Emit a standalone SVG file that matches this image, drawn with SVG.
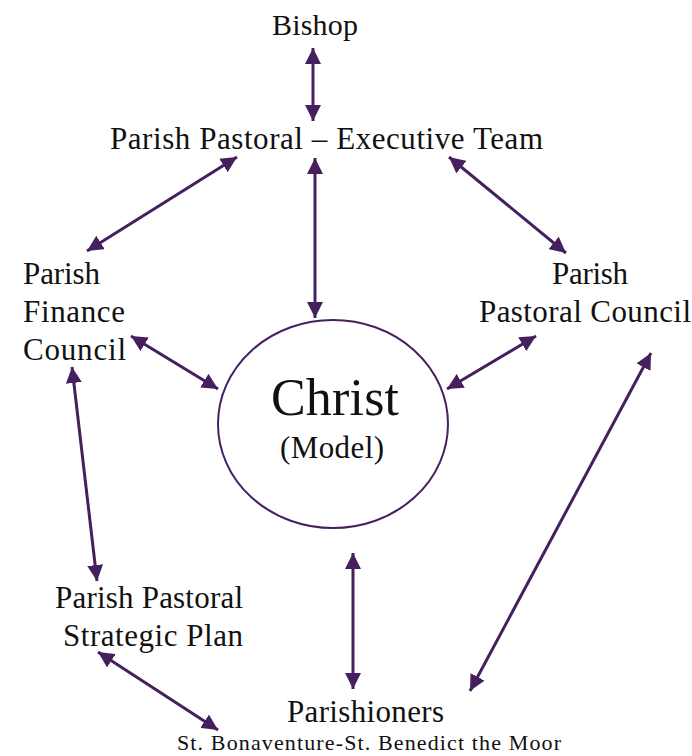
<svg xmlns="http://www.w3.org/2000/svg" width="692" height="756" viewBox="0 0 692 756">
<style>
.t{font-family:"Liberation Serif","DejaVu Serif",serif;fill:#111;}
.c line{stroke:#45205f;stroke-width:3;marker-start:url(#ah);marker-end:url(#ah);}
</style>
<defs>
<marker id="ah" markerUnits="userSpaceOnUse" markerWidth="18" markerHeight="16" refX="16" refY="8" orient="auto-start-reverse" viewBox="0 0 18 16">
<path d="M0,0 L16,8 L0,16 z" fill="#45205f"/>
</marker>
</defs>
<rect width="692" height="756" fill="#fff"/>
<g class="c" id="connectors">
<line x1="313" y1="48" x2="313" y2="121"/>
<line x1="237" y1="157" x2="87" y2="251"/>
<line x1="315" y1="158" x2="315" y2="318"/>
<line x1="449" y1="157" x2="566" y2="253"/>
<line x1="131" y1="336" x2="218" y2="389"/>
<line x1="536" y1="336" x2="447" y2="389"/>
<line x1="72" y1="367" x2="97" y2="581"/>
<line x1="98" y1="652" x2="218" y2="730"/>
<line x1="353" y1="553" x2="353" y2="689"/>
<line x1="651" y1="353" x2="470" y2="691"/>
</g>
<g id="bishop"><text class="t" x="315" y="35" font-size="30" text-anchor="middle" textLength="86">Bishop</text></g>
<g id="ppet"><text class="t" x="110" y="149" font-size="31" textLength="433">Parish Pastoral – Executive Team</text></g>
<g id="finance">
<text class="t" x="23" y="284" font-size="31" textLength="77">Parish</text>
<text class="t" x="23" y="322" font-size="31" textLength="102">Finance</text>
<text class="t" x="23" y="360" font-size="31" textLength="103">Council</text>
</g>
<g id="pastoral-council">
<text class="t" x="552" y="284" font-size="31" textLength="76">Parish</text>
<text class="t" x="479" y="322" font-size="31" textLength="212">Pastoral Council</text>
</g>
<g id="christ">
<ellipse cx="333" cy="424" rx="115" ry="104" fill="none" stroke="#45205f" stroke-width="2"/>
<text class="t" x="335" y="415" font-size="52" text-anchor="middle" textLength="128">Christ</text>
<text class="t" x="332" y="458" font-size="31" text-anchor="middle" textLength="104">(Model)</text>
</g>
<g id="strategic-plan">
<text class="t" x="55" y="608" font-size="31" textLength="188">Parish Pastoral</text>
<text class="t" x="63" y="646" font-size="31" textLength="180">Strategic Plan</text>
</g>
<g id="parishioners">
<text class="t" x="287" y="722" font-size="31" textLength="157">Parishioners</text>
<text class="t" x="177" y="750" font-size="22" textLength="384">St. Bonaventure-St. Benedict the Moor</text>
</g>
</svg>
